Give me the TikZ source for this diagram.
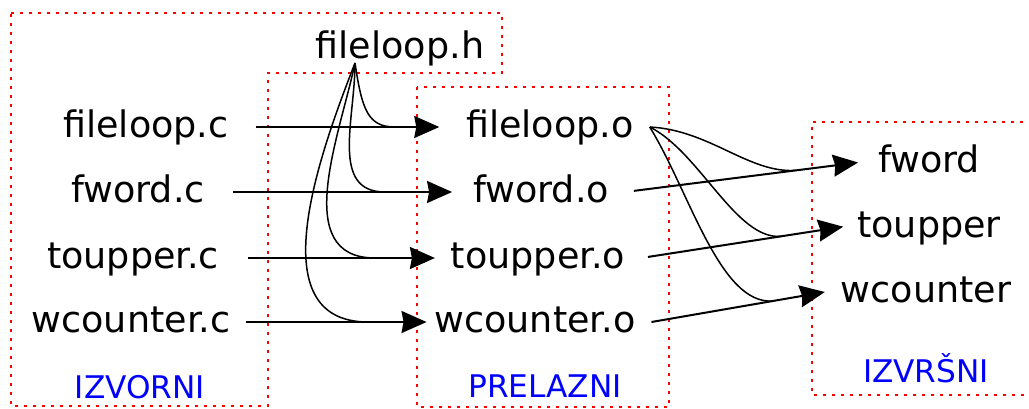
\documentclass[tikz,border=0pt]{standalone}
\usepackage{fontspec}
\setmainfont{DejaVu Sans}
\usetikzlibrary{arrows.meta,calc}
\tikzset{
  file/.style={inner xsep=8pt, inner ysep=0pt, outer sep=0pt, text height=14pt, text depth=4pt,
    font=\fontsize{18.25pt}{20pt}\selectfont},
  grp/.style={text=blue, inner sep=0pt, anchor=base, font=\fontsize{15.6pt}{18pt}\selectfont},
  area/.style={red, line width=1pt, dash pattern=on 1.5pt off 3pt},
  dep/.style={line width=1pt, -{Stealth[length=12.5pt, width=11pt, inset=1pt]}},
  inc/.style={line width=0.75pt},
}
\begin{document}
\begin{tikzpicture}[x=0.5pt, y=-0.5pt]
\useasboundingbox (0,0) rectangle (1029,408);
% group areas
\draw[area] (11,13) -- (502,13) -- (502,73) -- (268,73) -- (268,406) -- (11,406) -- cycle;
\draw[area] (417,87) rectangle (669,407);
\draw[area] (1032,122) -- (812,122) -- (812,395) -- (1032,395);
% nodes
\node[file] (fh) at (400,48) {fileloop.h};
\coordinate (hsrc) at (355,63);
\node[file] (fc) at (146,127) {fileloop.c};
\node[file] (wc) at (138,192) {fword.c};
\node[file] (tc) at (133,258) {toupper.c};
\node[file] (cc) at (131,322) {wcounter.c};
\node[file] (fo) at (550,127) {fileloop.o};
\node[file] (wo) at (541,192) {fword.o};
\node[file] (to) at (538,258) {toupper.o};
\node[file] (co) at (535,322) {wcounter.o};
\node[file] (we) at (929,162) {fword};
\node[file] (te) at (929,227) {toupper};
\node[file] (ce) at (926,292) {wcounter};
\node[grp] (g1) at (140,398) {IZVORNI};
\node[grp] (g2) at (545,397) {PRELAZNI};
\node[grp] (g3) at (926,382) {IZVRŠNI};
% compile arrows
\draw[dep, shorten <=5.5pt, shorten >=5.5pt] (fc.east) -- (fo.west);
\draw[dep, shorten <=6pt, shorten >=2.5pt] (wc.east) -- (wo.west);
\draw[dep, shorten <=6.5pt] (tc.east) -- (to.west);
\draw[dep, shorten >=-4pt] (cc.east) -- (co.west);
% link arrows
\draw[dep, shorten <=4.5pt, shorten >=2pt] (wo.east) -- (we.west);
\draw[dep, shorten <=3.5pt, shorten >=-1pt] (to.east) -- (te.west);
\draw[dep] (co.east) -- (ce.west);
% header includes
\coordinate (m1) at (395,127);
\coordinate (m2) at (385,192);
\coordinate (m3) at (375,258);
\coordinate (m4) at (368,322);
\draw[inc] (hsrc) .. controls +(7,47) and +(-27,0) .. (m1);
\draw[inc] (hsrc) .. controls +(0,57) and +(-55,0) .. (m2);
\draw[inc] (hsrc) .. controls +(-15,72) and +(-85,0) .. (m3);
\draw[inc] (hsrc) .. controls +(-35,90) and +(-110,0) .. (m4);
% fileloop.o linked into each program
\coordinate (n1) at ($(wo.east)!0.72!(we.west)$);
\coordinate (n2) at ($(to.east)!0.70!(te.west)$);
\coordinate (n3) at ($(co.east)!0.70!(ce.west)$);
\draw[inc] (fo.east) .. controls +(60,3) and +(-47,3) .. (n1);
\draw[inc] (fo.east) .. controls +(50,25) and +(-45,4) .. (n2);
\draw[inc] (fo.east) .. controls +(40,65) and +(-53,4) .. (n3);
\end{tikzpicture}
\end{document}
